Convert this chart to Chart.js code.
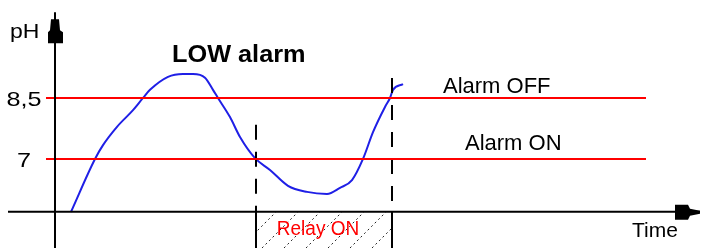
<!DOCTYPE html>
<html>
<head>
<meta charset="utf-8">
<script src="https://cdn.jsdelivr.net/npm/chart.js@4.4.1/dist/chart.umd.min.js"></script>
<style>
  html, body { margin: 0; padding: 0; background: #fff; }
  #wrap { width: 702px; height: 248px; position: relative; }
</style>
</head>
<body>
<div id="wrap"><canvas id="phChart"></canvas></div>
<script>
// pH curve (time in arbitrary units, y axis at t = 0)
var timeValues = [1.6, 4.0, 4.8, 6.2, 7.8, 8.8, 9.5, 11.3, 12.8, 13.8, 15.0, 15.8, 16.3, 17.5,
                  18.5, 20.0, 21.5, 23.3, 25.2, 27.2, 28.5, 29.7, 30.8, 31.8, 33.0, 33.5, 33.8, 34.8];
var phValues = [5.70, 7.00, 7.34, 7.79, 8.20, 8.50, 8.70, 9.02, 9.09, 9.09, 9.00, 8.70, 8.50, 8.03,
                7.54, 7.02, 6.73, 6.34, 6.19, 6.14, 6.29, 6.48, 7.00, 7.66, 8.28, 8.50, 8.70, 8.84];

// thresholds and their texts
var thresholds = [8.5, 7];
var tickLabels = ['8,5', '7'];
var thresholdNames = ['Alarm OFF', 'Alarm ON'];

// relay switches on at first crossing of 7, off at crossing of 8,5
var relayTimes = [20.1, 33.7];

var axisOrigin = { t: 0, ph: 5.7 };
var xRange = { min: -5.5, max: 64.7 };
var yRange = { min: 4.81, max: 10.91 };

function toPoints(xs, ys) {
    return xs.map(function(x, i) { return { x: x, y: ys[i] }; });
}

var datasets = [];

// axis lines
datasets.push({
    data: [{ x: -4.7, y: axisOrigin.ph }, { x: 64.5, y: axisOrigin.ph }],
    borderColor: '#000', borderWidth: 2, pointRadius: 0
});
datasets.push({
    data: [{ x: axisOrigin.t, y: yRange.min }, { x: axisOrigin.t, y: 10.61 }],
    borderColor: '#000', borderWidth: 2, pointRadius: 0
});

// threshold lines
thresholds.forEach(function(v) {
    datasets.push({
        data: [{ x: -0.9, y: v }, { x: 59.1, y: v }],
        borderColor: '#ff0000', borderWidth: 2, pointRadius: 0
    });
});

// relay dashed markers
datasets.push({
    data: [{ x: relayTimes[0], y: 7.84 }, { x: relayTimes[0], y: yRange.min }],
    borderColor: '#000', borderWidth: 2, borderDash: [15, 12], pointRadius: 0
});
datasets.push({
    data: [{ x: relayTimes[1], y: 8.99 }, { x: relayTimes[1], y: yRange.min }],
    borderColor: '#000', borderWidth: 2, borderDash: [15, 12], pointRadius: 0
});

// pH curve
datasets.push({
    data: toPoints(timeValues, phValues),
    borderColor: '#1f1fe6', borderWidth: 2, pointRadius: 0,
    cubicInterpolationMode: 'monotone'
});

function drawText(ctx, text, px, py, font, color, align, sx) {
    ctx.save();
    ctx.font = font;
    ctx.fillStyle = color;
    ctx.textBaseline = 'alphabetic';
    var w = ctx.measureText(text).width * sx;
    var left = align === 'center' ? px - w / 2 : px;
    ctx.translate(left, py);
    ctx.scale(sx, 1);
    ctx.fillText(text, 0, 0);
    ctx.restore();
}

var decorPlugin = {
    id: 'decor',
    afterDatasetsDraw: function(chart) {
        var ctx = chart.ctx;
        var xs = chart.scales.x, ys = chart.scales.y;
        var ax = xs.getPixelForValue(axisOrigin.t);
        var ay = ys.getPixelForValue(axisOrigin.ph);
        var font = "'Liberation Sans', Arial, sans-serif";

        // arrow heads
        ctx.save();
        ctx.fillStyle = '#000';
        var yTop = ys.getPixelForValue(10.61);
        ctx.beginPath();
        ctx.moveTo(ax - 4, yTop + 7);
        ctx.lineTo(ax + 4, yTop + 7);
        ctx.lineTo(ax + 5, yTop + 18);
        ctx.lineTo(ax + 8, yTop + 20);
        ctx.lineTo(ax + 8, yTop + 31);
        ctx.lineTo(ax - 7, yTop + 31);
        ctx.lineTo(ax - 7, yTop + 20);
        ctx.lineTo(ax - 5, yTop + 18);
        ctx.closePath();
        ctx.fill();

        var xEnd = xs.getPixelForValue(64.5);
        ctx.beginPath();
        ctx.moveTo(xEnd - 25, ay - 7);
        ctx.lineTo(xEnd - 12, ay - 7);
        ctx.lineTo(xEnd - 10, ay - 3);
        ctx.lineTo(xEnd, ay - 1);
        ctx.lineTo(xEnd, ay + 2);
        ctx.lineTo(xEnd - 10, ay + 4);
        ctx.lineTo(xEnd - 12, ay + 8);
        ctx.lineTo(xEnd - 25, ay + 8);
        ctx.closePath();
        ctx.fill();
        ctx.restore();

        // relay box with hatching
        var x0 = xs.getPixelForValue(relayTimes[0]);
        var x1 = xs.getPixelForValue(relayTimes[1]);
        var yb = ys.getPixelForValue(yRange.min);
        ctx.save();
        ctx.beginPath();
        ctx.rect(x0, ay, x1 - x0, yb - ay);
        ctx.clip();
        ctx.strokeStyle = '#222';
        ctx.lineWidth = 1;
        ctx.setLineDash([2, 3]);
        var h = yb - ay;
        for (var bx = x0 + 6 - 22 * 2; bx < x1 + 22; bx += 22) {
            ctx.beginPath();
            ctx.moveTo(bx, yb);
            ctx.lineTo(bx + h, ay);
            ctx.stroke();
        }
        ctx.restore();
        ctx.save();
        ctx.strokeStyle = '#000';
        ctx.lineWidth = 2;
        ctx.beginPath();
        ctx.moveTo(x0, ay); ctx.lineTo(x0, yb);
        ctx.moveTo(x1, ay); ctx.lineTo(x1, yb);
        ctx.stroke();
        ctx.restore();
        drawText(ctx, 'Relay ON', (x0 + x1) / 2 - 6, ay + 23, '20px ' + font, '#ff0000', 'center', 0.95);

        // axis titles
        drawText(ctx, 'pH', ax - 45, ys.getPixelForValue(10.61) + 26, '20px ' + font, '#000', 'left', 1.15);
        drawText(ctx, 'Time', xs.getPixelForValue(57.7), ay + 25, '21px ' + font, '#000', 'left', 1);

        // tick labels and threshold names
        var nameOffsets = [{ t: 38.8, dy: -5 }, { t: 41.0, dy: -9 }];
        thresholds.forEach(function(v, i) {
            var py = ys.getPixelForValue(v);
            drawText(ctx, tickLabels[i], ax - 31, py + 8, '21px ' + font, '#000', 'center', 1.2);
            drawText(ctx, thresholdNames[i], xs.getPixelForValue(nameOffsets[i].t), py + nameOffsets[i].dy,
                     '22px ' + font, '#000', 'left', 1);
        });

        // title
        drawText(ctx, 'LOW alarm', xs.getPixelForValue(11.7), ys.getPixelForValue(9.385),
                 'bold 23px ' + font, '#000', 'left', 1.1);
    }
};

new Chart(document.getElementById('phChart'), {
    type: 'line',
    data: { datasets: datasets },
    options: {
        responsive: true,
        maintainAspectRatio: false,
        animation: false,
        layout: { padding: 0 },
        scales: {
            x: { type: 'linear', display: false, min: xRange.min, max: xRange.max },
            y: { type: 'linear', display: false, min: yRange.min, max: yRange.max }
        },
        plugins: {
            legend: { display: false },
            tooltip: { enabled: false }
        }
    },
    plugins: [decorPlugin]
});
</script>
</body>
</html>
